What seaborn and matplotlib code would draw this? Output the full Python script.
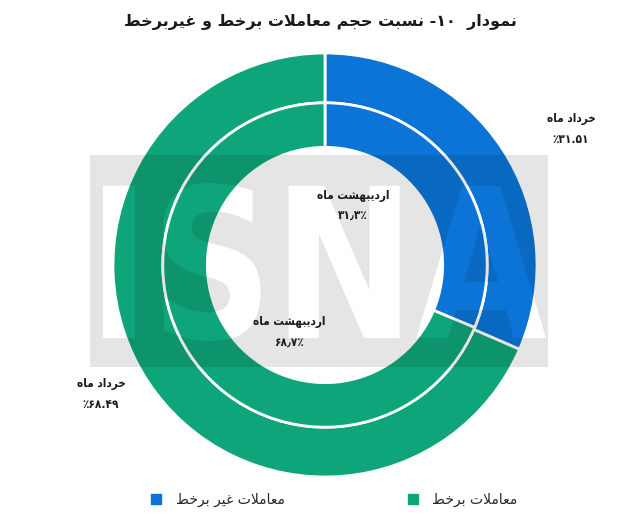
import matplotlib
matplotlib.use("Agg")
import numpy as np
import matplotlib.pyplot as plt
import seaborn as sns
from matplotlib.textpath import TextPath
from matplotlib.patches import PathPatch
from matplotlib.path import Path
from matplotlib.transforms import Affine2D
from matplotlib.font_manager import FontProperties
from matplotlib.lines import Line2D

# data
categories = ["معاملات غیر برخط", "معاملات برخط"]
khordad = [31.51, 68.49]        # outer ring
ordibehesht = [31.3, 68.7]      # inner ring
khordad_labels = ["٪۳۱.۵۱", "٪۶۸.۴۹"]
ordibehesht_labels = ["۳۱٫۳٪", "۶۸٫۷٪"]
title_main = "نسبت حجم معاملات برخط و غیربرخط"
title_num = "۱۰"

# minimal arabic/persian shaping (no bidi libs available)
FORMS = {
    "ا": (0xFE8D, 0xFE8E, None, None),
    "ب": (0xFE8F, 0xFE90, 0xFE91, 0xFE92),
    "ت": (0xFE95, 0xFE96, 0xFE97, 0xFE98),
    "ج": (0xFE9D, 0xFE9E, 0xFE9F, 0xFEA0),
    "ح": (0xFEA1, 0xFEA2, 0xFEA3, 0xFEA4),
    "خ": (0xFEA5, 0xFEA6, 0xFEA7, 0xFEA8),
    "د": (0xFEA9, 0xFEAA, None, None),
    "ر": (0xFEAD, 0xFEAE, None, None),
    "س": (0xFEB1, 0xFEB2, 0xFEB3, 0xFEB4),
    "ش": (0xFEB5, 0xFEB6, 0xFEB7, 0xFEB8),
    "ط": (0xFEC1, 0xFEC2, 0xFEC3, 0xFEC4),
    "ع": (0xFEC9, 0xFECA, 0xFECB, 0xFECC),
    "غ": (0xFECD, 0xFECE, 0xFECF, 0xFED0),
    "ل": (0xFEDD, 0xFEDE, 0xFEDF, 0xFEE0),
    "م": (0xFEE1, 0xFEE2, 0xFEE3, 0xFEE4),
    "ن": (0xFEE5, 0xFEE6, 0xFEE7, 0xFEE8),
    "ه": (0xFEE9, 0xFEEA, 0xFEEB, 0xFEEC),
    "و": (0xFEED, 0xFEEE, None, None),
    "ی": (0xFEEF, 0xFEF0, 0xFEF3, 0xFEF4),
}


def shape(text):
    out = []
    i = 0
    n = len(text)
    while i < n:
        c = text[i]
        if c not in FORMS:
            out.append(c)
            i += 1
            continue
        prev = text[i - 1] if i > 0 else ""
        jp = prev in FORMS and FORMS[prev][2] is not None
        if c == "ل" and i + 1 < n and text[i + 1] == "ا":
            out.append(chr(0xFEFC if jp else 0xFEFB))
            i += 2
            continue
        nxt = text[i + 1] if i + 1 < n else ""
        iso, fin, ini, med = FORMS[c]
        jn = ini is not None and nxt in FORMS
        if jp and jn:
            g = med
        elif jp:
            g = fin
        elif jn:
            g = ini
        else:
            g = iso
        out.append(chr(g))
        i += 1
    return "".join(out)[::-1]


sns.set_theme(style="white")
plt.rcParams["font.family"] = ["DejaVu Sans"]
colors = sns.color_palette(["#0B74D6", "#0FA57A"])

W, H = 640, 528
fig = plt.figure(figsize=(6.4, 5.28), dpi=100)
fig.patch.set_facecolor("white")

# donut axes: center ~ (325, 265) px, radius ~212 px
cx, cy, r = 325, 265, 212
ax = fig.add_axes([(cx - r) / W, (H - cy - r) / H, 2 * r / W, 2 * r / H])
ax.patch.set_alpha(0)
ax.pie(khordad, radius=1.0, startangle=90, counterclock=False, colors=colors,
       wedgeprops=dict(width=0.235, edgecolor="white", linewidth=2))
ax.pie(ordibehesht, radius=0.765, startangle=90, counterclock=False, colors=colors,
       wedgeprops=dict(width=0.21, edgecolor="white", linewidth=2))
ax.set_xlim(-1, 1)
ax.set_ylim(-1, 1)
ax.axis("off")

# watermark overlay: translucent grey box with the letters knocked out
wm = fig.add_axes([0, 0, 1, 1])
wm.set_xlim(0, W)
wm.set_ylim(0, H)
wm.axis("off")
wm.patch.set_alpha(0)
tp = TextPath((0, 0), "ISNA", size=1, prop=FontProperties(family="DejaVu Sans", weight="bold"))
bb = tp.get_extents()
tr = Affine2D().translate(-bb.x0, -bb.y0).scale(443 / bb.width, 158 / bb.height).translate(103, H - 341)
letters = tr.transform_path(tp)


def signed_area(p):
    x, y = p[:, 0], p[:, 1]
    return 0.5 * np.sum(x * np.roll(y, -1) - np.roll(x, -1) * y)


big = max(letters.to_polygons(), key=lambda p: abs(signed_area(p)))
x0, x1, y0, y1 = 90, 548, H - 367, H - 155
box = [(x0, y0), (x1, y0), (x1, y1), (x0, y1)]
if signed_area(big) > 0:
    box = box[::-1]
box_path = Path(box + [box[0]], [Path.MOVETO, Path.LINETO, Path.LINETO, Path.LINETO, Path.CLOSEPOLY])
wm.add_patch(PathPatch(Path.make_compound_path(box_path, letters), facecolor="black", alpha=0.1, lw=0))

lab = dict(ha="center", va="center", fontsize=8.5, fontweight="bold", color="#1a1a1a",
           linespacing=1.8, fontstretch="condensed")
kh = shape("خرداد ماه")
ob = shape("اردیبهشت ماه")
fig.text(571 / W, 1 - 129 / H, kh + "\n" + khordad_labels[0], **lab)
fig.text(101 / W, 1 - 394 / H, kh + "\n" + khordad_labels[1], **lab)
fig.text(353 / W, 1 - 206 / H, ob + "\n" + ordibehesht_labels[0], **lab)
fig.text(289 / W, 1 - 332 / H, ob + "\n" + ordibehesht_labels[1], **lab)

fig.text(320 / W, 1 - 22 / H, shape(title_main) + " -" + title_num + "  " + shape("نمودار"),
         ha="center", va="center", fontsize=11.5, fontweight="bold", color="#1a1a1a")

handles = [Line2D([], [], marker="s", linestyle="none", markersize=7, color=c) for c in colors]
fig.legend(handles, [shape(c) for c in categories], loc="center", bbox_to_anchor=(330 / W, 1 - 500 / H),
           ncol=2, frameon=False, fontsize=10, columnspacing=8.2, handletextpad=0.4)

fig.savefig("out.png", dpi=100)
